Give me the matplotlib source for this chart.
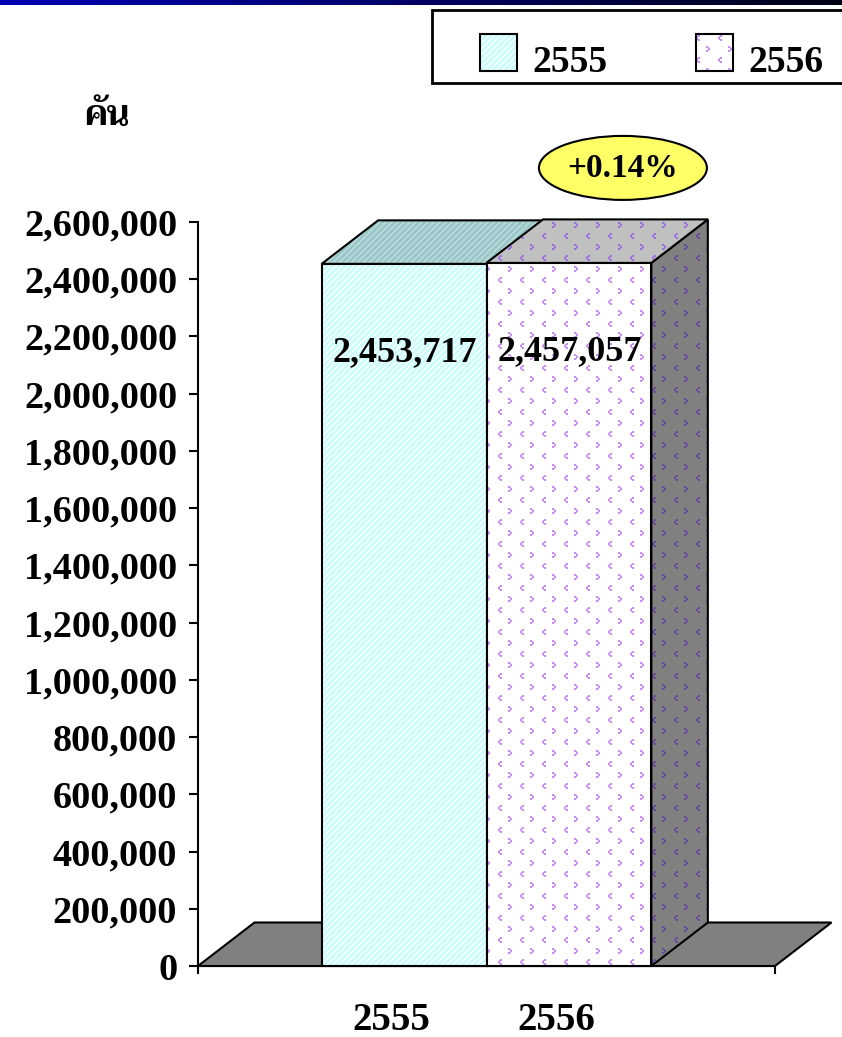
import numpy as np
import matplotlib
matplotlib.use("Agg")
import matplotlib.pyplot as plt
from matplotlib.patches import Polygon, Rectangle, Ellipse
from matplotlib.transforms import Affine2D, offset_copy
from matplotlib.colors import to_rgba
from matplotlib.ticker import FuncFormatter, MultipleLocator

# ---------------- data ----------------
categories = ['2555', '2556']
values = [2453717, 2457057]
change_label = '+0.14%'
unit_label = 'คัน'
y_max = 2600000
y_step = 200000

# ---------------- style ----------------
plt.rcParams['font.family'] = ['Liberation Serif', 'DejaVu Serif']
plt.rcParams['font.weight'] = 'bold'

W, H = 842, 1037
fig = plt.figure(figsize=(W / 100, H / 100), dpi=100)
fig.patch.set_facecolor('white')
# pixel transform, origin top-left
PX = Affine2D().scale(1, -1).translate(0, H).scale(1 / W, 1 / H) + fig.transFigure

ax = fig.add_axes([198 / W, 71 / H, 577 / W, 744 / H])
n = len(values)
bar_w = 1.0
x_left0 = 0.75
x_total = 3.5
ax.set_xlim(0, x_total)
ax.set_ylim(0, y_max)
ax.patch.set_visible(False)
for s in ['top', 'right']:
    ax.spines[s].set_visible(False)
for s in ['left', 'bottom']:
    ax.spines[s].set_linewidth(1.5)
ax.yaxis.set_major_locator(MultipleLocator(y_step))
ax.yaxis.set_major_formatter(FuncFormatter(lambda v, p: f'{int(round(v)):,}'))
ax.tick_params(axis='y', direction='out', length=6.5, width=1.5, pad=8.5,
               labelsize=27.5)
ax.set_xticks([])
ax.set_xticks([0, x_total], minor=True)
ax.tick_params(axis='x', which='minor', direction='out', length=6, width=1.5,
               labelbottom=False)

# scale (px per data unit)
p0 = ax.transData.transform((0, 0))
p1 = ax.transData.transform((1, y_max))
sx = p1[0] - p0[0]
sy = (p1[1] - p0[1]) / y_max
DX_PX, DY_PX = 56.5, 43.5
ddx = DX_PX / sx
ddy = DY_PX / sy

# ---------------- textures ----------------
def rgba8(c):
    return (np.array(to_rgba(c)) * 255).astype(np.uint8)

rr, cc = np.mgrid[0:H, 0:W]

def stripe_tex(base, light, period=6, width=3):
    arr = np.empty((H, W, 4), np.uint8)
    arr[...] = rgba8(base)
    mask = ((rr + cc) % period) < width
    arr[mask] = rgba8(light)
    return arr

GT = np.array([[1, 1, 0, 0, 0],
               [1, 1, 1, 0, 0],
               [0, 0, 1, 1, 0],
               [0, 0, 1, 1, 0],
               [1, 1, 1, 0, 0],
               [1, 1, 0, 0, 0]], bool)      # '>'
LT = GT[:, ::-1]                              # '<'

def glyph_tex(bg, fg):
    tile = np.zeros((22, 22), bool)
    tile[2:8, 2:7] = GT
    tile[13:19, 13:18] = LT
    big = np.tile(tile, (H // 22 + 1, W // 22 + 1))[:H, :W]
    arr = np.empty((H, W, 4), np.uint8)
    arr[...] = rgba8(bg)
    arr[big] = rgba8(fg)
    return arr

tex = [
    {'front': stripe_tex('#c6fefe', '#f0ffff'),
     'top': stripe_tex('#98c6c6', '#b2d6d6'),
     'side': stripe_tex('#5f8c8c', '#6f9a9a')},
    {'front': glyph_tex('#ffffff', '#c88cff'),
     'top': glyph_tex('#c0c0c0', '#9b6ee0'),
     'side': glyph_tex('#808080', '#674a9c')},
]

def textured_poly(pts, arr, z, transform):
    img = fig.figimage(arr, xo=0, yo=0, origin='upper', zorder=z)
    clip = Polygon(pts, closed=True, transform=transform)
    img.set_clip_path(clip)
    outline = Polygon(pts, closed=True, transform=transform, fc='none',
                      ec='black', lw=1.5, zorder=z + 0.5)
    fig.add_artist(outline)

# ---------------- floor ----------------
floor = Polygon([(0, 0), (x_total, 0), (x_total + ddx, ddy), (ddx, ddy)],
                closed=True, transform=ax.transData, fc='#808080', ec='black',
                lw=1.5, zorder=1)
fig.add_artist(floor)

# ---------------- bars ----------------
centers = []
z = 2
for i, v in enumerate(values):
    xl = x_left0 + i * bar_w
    xr = xl + bar_w
    centers.append((xl + xr) / 2)
    front = [(xl, 0), (xr, 0), (xr, v), (xl, v)]
    top = [(xl, v), (xr, v), (xr + ddx, v + ddy), (xl + ddx, v + ddy)]
    side = [(xr, 0), (xr + ddx, ddy), (xr + ddx, v + ddy), (xr, v)]
    textured_poly(side, tex[i]['side'], z, ax.transData)
    textured_poly(front, tex[i]['front'], z + 1, ax.transData)
    textured_poly(top, tex[i]['top'], z + 2, ax.transData)
    z += 3

# value labels
for c, v in zip(centers, values):
    tr = offset_copy(ax.transData, fig, x=1, y=-97, units='dots')
    fig.text(c, v, f'{v:,}', ha='center', va='baseline', fontsize=26,
             fontweight='bold', transform=tr, zorder=40)

# category labels
for c, lab in zip(centers, categories):
    tr = offset_copy(ax.transData, fig, x=-13, y=-64, units='dots')
    fig.text(c, 0, lab, ha='center', va='baseline', fontsize=28,
             fontweight='bold', transform=tr, zorder=40)

# change ellipse above second bar
ex, ey = ax.transData.transform((centers[1], values[1]))
ex, ey = ex + 54, (H - ey) - 95
fig.add_artist(Ellipse((ex, ey), 168, 64, transform=PX, fc='#ffff66',
                       ec='black', lw=1.5, zorder=41))
fig.text(ex, ey + 1, change_label, ha='center', va='center', fontsize=24,
         fontweight='bold', transform=PX, zorder=42)

# unit label
fig.text(84, 125, unit_label, ha='left', va='baseline', fontsize=25,
         family=['Trirong', 'DejaVu Sans'], fontweight='bold', transform=PX,
         zorder=42)

# ---------------- legend ----------------
fig.add_artist(Rectangle((432, 10), 430, 73, transform=PX, fc='white',
                         ec='black', lw=2, zorder=50))
leg_x = [480, 696]
for i, lab in enumerate(categories):
    x0 = leg_x[i]
    pts = [(x0, 34), (x0 + 37, 34), (x0 + 37, 71), (x0, 71)]
    textured_poly(pts, tex[i]['front'], 51, PX)
    fig.text(x0 + 52, 72, lab, ha='left', va='baseline', fontsize=27,
             fontweight='bold', transform=PX, zorder=53)

# ---------------- top gradient bar ----------------
grad = np.zeros((5, W, 4), np.uint8)
t = np.linspace(0, 1, W)
grad[..., 2] = (180 * (1 - t) + 20 * t).astype(np.uint8)
grad[..., 3] = 255
fig.figimage(grad, xo=0, yo=H - 5, origin='upper', zorder=60)

fig.savefig('out.png', dpi=100)
